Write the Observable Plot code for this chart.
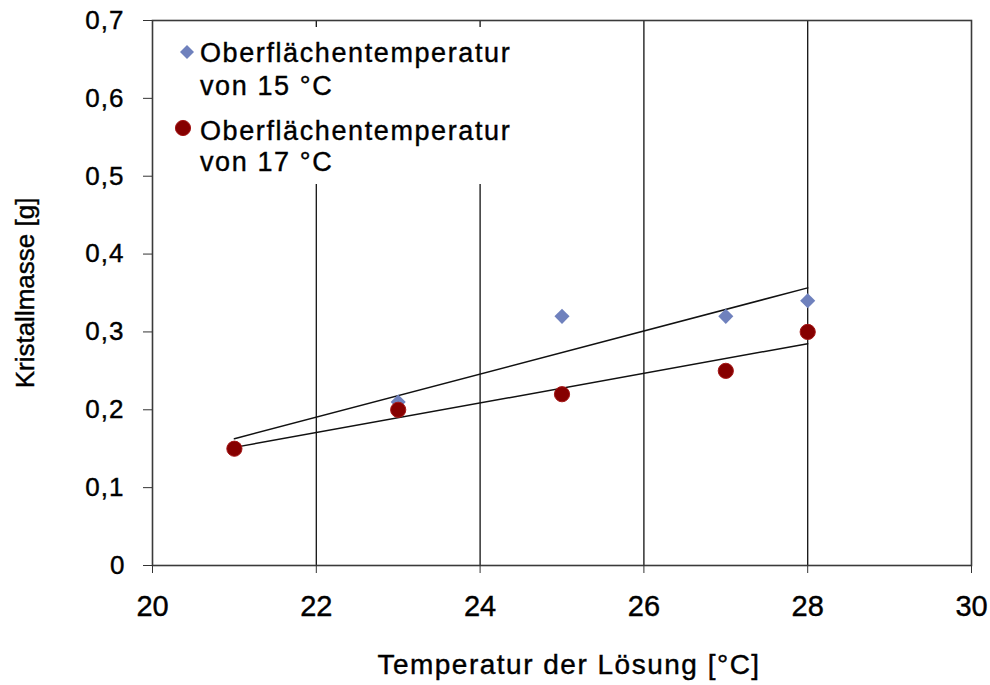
<!DOCTYPE html>
<html>
<head>
<meta charset="utf-8">
<script src="https://cdn.jsdelivr.net/npm/d3@7"></script>
<script src="https://cdn.jsdelivr.net/npm/@observablehq/plot@0.6"></script>
<style>
  body { margin: 0; background: #fff; }
  #chart { position: relative; width: 990px; height: 685px; font-family: "Liberation Sans", Arial, sans-serif; color: #000; }
  #chart svg { display: block; }
  #chart svg text { stroke: #000; stroke-width: 0.4px; }
  .legend { position: absolute; left: 158px; top: 27px; width: 372px; height: 157px; background: #fff; }
  .legend-line { position: absolute; left: 200px; font-size: 27px; line-height: 27px; letter-spacing: 1.6px; white-space: nowrap; -webkit-text-stroke: 0.4px #000; }
  .legend-swatch { position: absolute; }
</style>
</head>
<body>
<div id="chart"></div>
<script>
// Crystal mass vs. solution temperature, for two surface temperatures
const temperatures = [21, 23, 25, 27, 28];
const mass15 = [0.15, 0.21, 0.32, 0.32, 0.34];
const mass17 = [0.15, 0.20, 0.22, 0.25, 0.30];
const seriesLabels = [
  ["Oberflächentemperatur", "von 15 °C"],
  ["Oberflächentemperatur", "von 17 °C"]
];
const xTicks = [20, 22, 24, 26, 28, 30];
const yTicks = [0, 0.1, 0.2, 0.3, 0.4, 0.5, 0.6, 0.7];
const gridX = [22, 24, 26, 28];
const xTitle = "Temperatur der Lösung [°C]";
const yTitle = "Kristallmasse [g]";

const blue = "#6f81bd";
const red = "#860000";

const rows15 = temperatures.map((t, i) => ({t, m: mass15[i]}));
const rows17 = temperatures.map((t, i) => ({t, m: mass17[i]}));

const fmtY = v => v === 0 ? "0" : d3.format(".1f")(v).replace(".", ",");

const plot = Plot.plot({
  width: 990,
  height: 685,
  marginLeft: 152,
  marginRight: 19,
  marginTop: 20,
  marginBottom: 120,
  style: {fontFamily: "'Liberation Sans', Arial, sans-serif", color: "#000", background: "transparent"},
  x: {domain: [20, 30]},
  y: {domain: [0, 0.7]},
  marks: [
    Plot.ruleX(gridX, {stroke: "#111", strokeWidth: 1.3}),
    Plot.frame({stroke: "#3a3a3a", strokeWidth: 1.6}),
    Plot.axisY(yTicks, {
      tickSize: 9, tickPadding: 19, fontSize: 26, stroke: "#333",
      tickFormat: fmtY, label: null
    }),
    Plot.axisX(xTicks, {
      tickSize: 8, tickPadding: 22, fontSize: 29, stroke: "#333",
      tickFormat: d => String(d), label: null
    }),
    Plot.text([xTitle], {frameAnchor: "bottom", dx: 7, dy: 100, fontSize: 28, lineAnchor: "middle"}),
    Plot.text([yTitle], {frameAnchor: "left", textAnchor: "middle", rotate: -90, dx: -127, fontSize: 26, lineAnchor: "middle"}),
    Plot.linearRegressionY(rows15, {x: "t", y: "m", stroke: "#111", strokeWidth: 1.5, ci: 0}),
    Plot.linearRegressionY(rows17, {x: "t", y: "m", stroke: "#111", strokeWidth: 1.5, ci: 0}),
    Plot.dot(rows15, {x: "t", y: "m", symbol: "diamond2", r: 6.8, fill: blue, stroke: "none"}),
    Plot.dot(rows17, {x: "t", y: "m", r: 7.6, fill: red, stroke: "#a51818", strokeWidth: 1})
  ]
});

// Wider tracking for the axis title and the y tick labels
const yLabelSet = new Set(yTicks.map(fmtY));
d3.select(plot).selectAll("text")
  .filter(function () { return this.textContent === xTitle; })
  .style("letter-spacing", "1.5px");
d3.select(plot).selectAll("text")
  .filter(function () { return yLabelSet.has(this.textContent) && this.textContent !== "0"; })
  .style("letter-spacing", "1px");

const chart = document.getElementById("chart");
chart.appendChild(plot);

// Legend box inside the plot area (white background hides the grid behind it)
const legend = document.createElement("div");
legend.className = "legend";
chart.appendChild(legend);

const entries = [
  {label: seriesLabels[0], tops: [40, 73], swatch: `<svg width="16" height="16" viewBox="-8 -8 16 16"><path d="M0,-7L7,0L0,7L-7,0Z" fill="${blue}"/></svg>`, sx: 179, sy: 44},
  {label: seriesLabels[1], tops: [118, 149], swatch: `<svg width="18" height="18" viewBox="-9 -9 18 18"><circle r="7.6" fill="${red}" stroke="#a51818" stroke-width="1"/></svg>`, sx: 174, sy: 119}
];
for (const e of entries) {
  const sw = document.createElement("div");
  sw.className = "legend-swatch";
  sw.style.left = e.sx + "px";
  sw.style.top = e.sy + "px";
  sw.innerHTML = e.swatch;
  chart.appendChild(sw);
  e.label.forEach((line, i) => {
    const d = document.createElement("div");
    d.className = "legend-line";
    d.style.top = e.tops[i] + "px";
    d.textContent = line;
    chart.appendChild(d);
  });
}
</script>
</body>
</html>
